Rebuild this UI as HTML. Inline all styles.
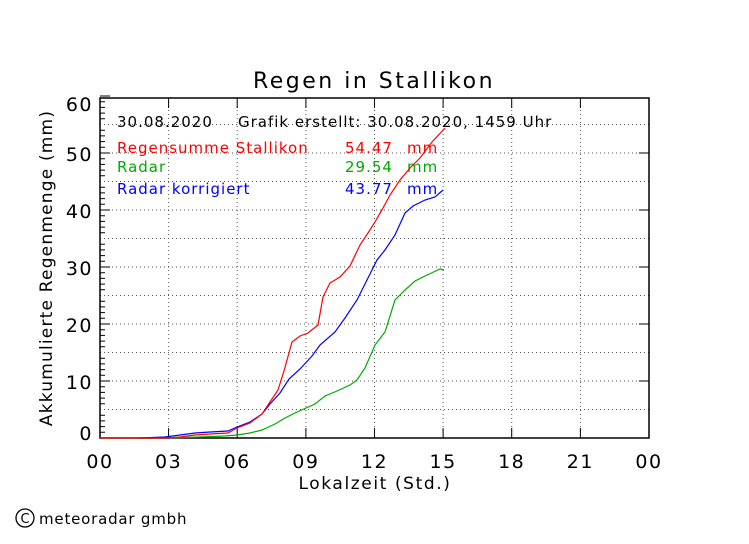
<!DOCTYPE html>
<html><head><meta charset="utf-8"><style>
html,body{margin:0;padding:0;background:#fff;}
svg text{font-family:"DejaVu Sans","Liberation Sans",sans-serif;font-weight:normal;}
</style></head><body>
<svg width="749" height="539" xmlns="http://www.w3.org/2000/svg">
<rect width="749" height="539" fill="#fff"/>
<text x="374" y="88" font-size="22" letter-spacing="2.5" text-anchor="middle" fill="#000">Regen in Stallikon</text>
<g stroke="#555" stroke-dasharray="1,3" stroke-width="1">
<line x1="100" y1="409.5" x2="649" y2="409.5"/><line x1="100" y1="381" x2="649" y2="381"/>
<line x1="100" y1="352.5" x2="649" y2="352.5"/><line x1="100" y1="324" x2="649" y2="324"/>
<line x1="100" y1="295.5" x2="649" y2="295.5"/><line x1="100" y1="267" x2="649" y2="267"/>
<line x1="100" y1="238.5" x2="649" y2="238.5"/><line x1="100" y1="210" x2="649" y2="210"/>
<line x1="100" y1="181.5" x2="649" y2="181.5"/><line x1="100" y1="153" x2="649" y2="153"/>
<line x1="100" y1="124.5" x2="649" y2="124.5"/>
<line x1="168.6" y1="98" x2="168.6" y2="438"/><line x1="237.2" y1="98" x2="237.2" y2="438"/>
<line x1="305.9" y1="98" x2="305.9" y2="438"/><line x1="374.5" y1="98" x2="374.5" y2="438"/>
<line x1="443.1" y1="98" x2="443.1" y2="438"/><line x1="511.7" y1="98" x2="511.7" y2="438"/>
<line x1="580.4" y1="98" x2="580.4" y2="438"/>
</g>
<rect x="100" y="98" width="549" height="340" fill="none" stroke="#000" stroke-width="1.5"/>
<g stroke="#000" stroke-width="1">
<path d="M100 432.3h5M100 426.6h5M100 420.9h5M100 415.2h5M100 403.8h5M100 398.1h5M100 392.4h5M100 386.7h5M100 375.3h5M100 369.6h5M100 363.9h5M100 358.2h5M100 346.8h5M100 341.1h5M100 335.4h5M100 329.7h5M100 318.3h5M100 312.6h5M100 306.9h5M100 301.2h5M100 289.8h5M100 284.1h5M100 278.4h5M100 272.7h5M100 261.3h5M100 255.6h5M100 249.9h5M100 244.2h5M100 232.8h5M100 227.1h5M100 221.4h5M100 215.7h5M100 204.3h5M100 198.6h5M100 192.9h5M100 187.2h5M100 175.8h5M100 170.1h5M100 164.4h5M100 158.7h5M100 147.3h5M100 141.6h5M100 135.9h5M100 130.2h5M100 118.8h5M100 113.1h5M100 107.4h5M100 101.7h5"/>
<path d="M100 438h10M100 381h10M100 324h10M100 267h10M100 210h10M100 153h10M100 96h10M649 438h-10M649 381h-10M649 324h-10M649 267h-10M649 210h-10M649 153h-10"/>
<path d="M168.6 438v-10M237.2 438v-10M305.9 438v-10M374.5 438v-10M443.1 438v-10M511.7 438v-10M580.4 438v-10M168.6 98v10M237.2 98v10M305.9 98v10M374.5 98v10M443.1 98v10M511.7 98v10M580.4 98v10"/>
</g>
<g font-size="19" letter-spacing="1.5" text-anchor="end" fill="#000">
<text x="93" y="440">0</text><text x="93" y="389">10</text><text x="93" y="332">20</text>
<text x="93" y="275">30</text><text x="93" y="218">40</text><text x="93" y="161">50</text><text x="93" y="111">60</text>
</g>
<g font-size="19" letter-spacing="1.5" text-anchor="middle" fill="#000">
<text x="100" y="468">00</text><text x="168.6" y="468">03</text><text x="237.2" y="468">06</text>
<text x="305.9" y="468">09</text><text x="374.5" y="468">12</text><text x="443.1" y="468">15</text>
<text x="511.7" y="468">18</text><text x="580.4" y="468">21</text><text x="649" y="468">00</text>
</g>
<text x="375" y="489" font-size="17" letter-spacing="1.6" text-anchor="middle">Lokalzeit (Std.)</text>
<text transform="translate(52,268) rotate(-90)" font-size="17" letter-spacing="1.2" text-anchor="middle" fill="#000">Akkumulierte Regenmenge (mm)</text>
<g font-size="15" letter-spacing="1">
<text x="117" y="127" fill="#000">30.08.2020</text>
<text x="238" y="127" fill="#000">Grafik erstellt: 30.08.2020, 1459 Uhr</text>
<text x="117" y="153" fill="#f00">Regensumme Stallikon</text><text x="345" y="153" fill="#f00">54.47</text><text x="407" y="153" fill="#f00">mm</text>
<text x="117" y="172" fill="#0a0">Radar</text><text x="345" y="172" fill="#0a0">29.54</text><text x="407" y="172" fill="#0a0">mm</text>
<text x="117" y="194" fill="#00f">Radar korrigiert</text><text x="345" y="194" fill="#00f">43.77</text><text x="407" y="194" fill="#00f">mm</text>
</g>
<polyline fill="none" stroke="#0a0" stroke-width="1.2" points="100,438 168,438 200,437 225,436 237,435 250,433 262,430 275,424 285,418 295,413 306,408 315,404 325,396 337,391 350,385 357,380 365,368 375,345 385,332 395,300 405,290 415,281 425,276 440,269 444,270"/>
<polyline fill="none" stroke="#00f" stroke-width="1.2" points="140,438 165,437 180,435 195,433 210,432 228,431 237,427 250,422 262,414 270,404 280,393 289,379 300,369 312,356 320,345 335,332 345,318 357,300 368,278 377,260 385,250 395,235 405,213 413,206 425,200 435,197 443,190"/>
<polyline fill="none" stroke="#f00" stroke-width="1.2" points="100,438 168,438 180,437 195,435 210,434 228,433 237,428 250,423 262,414 270,402 278,390 284,371 292,342 300,336 308,333 318,325 323,297 330,283 340,277 350,266 360,245 368,233 375,222 383,208 390,195 400,180 410,168 420,158 432,142 445,128"/>
<circle cx="25" cy="518" r="9" fill="none" stroke="#000" stroke-width="1.3"/>
<text x="25" y="523" font-size="13" text-anchor="middle">C</text>
<text x="39" y="524" font-size="15" letter-spacing="0.8" fill="#000">meteoradar gmbh</text>
</svg>
</body></html>
